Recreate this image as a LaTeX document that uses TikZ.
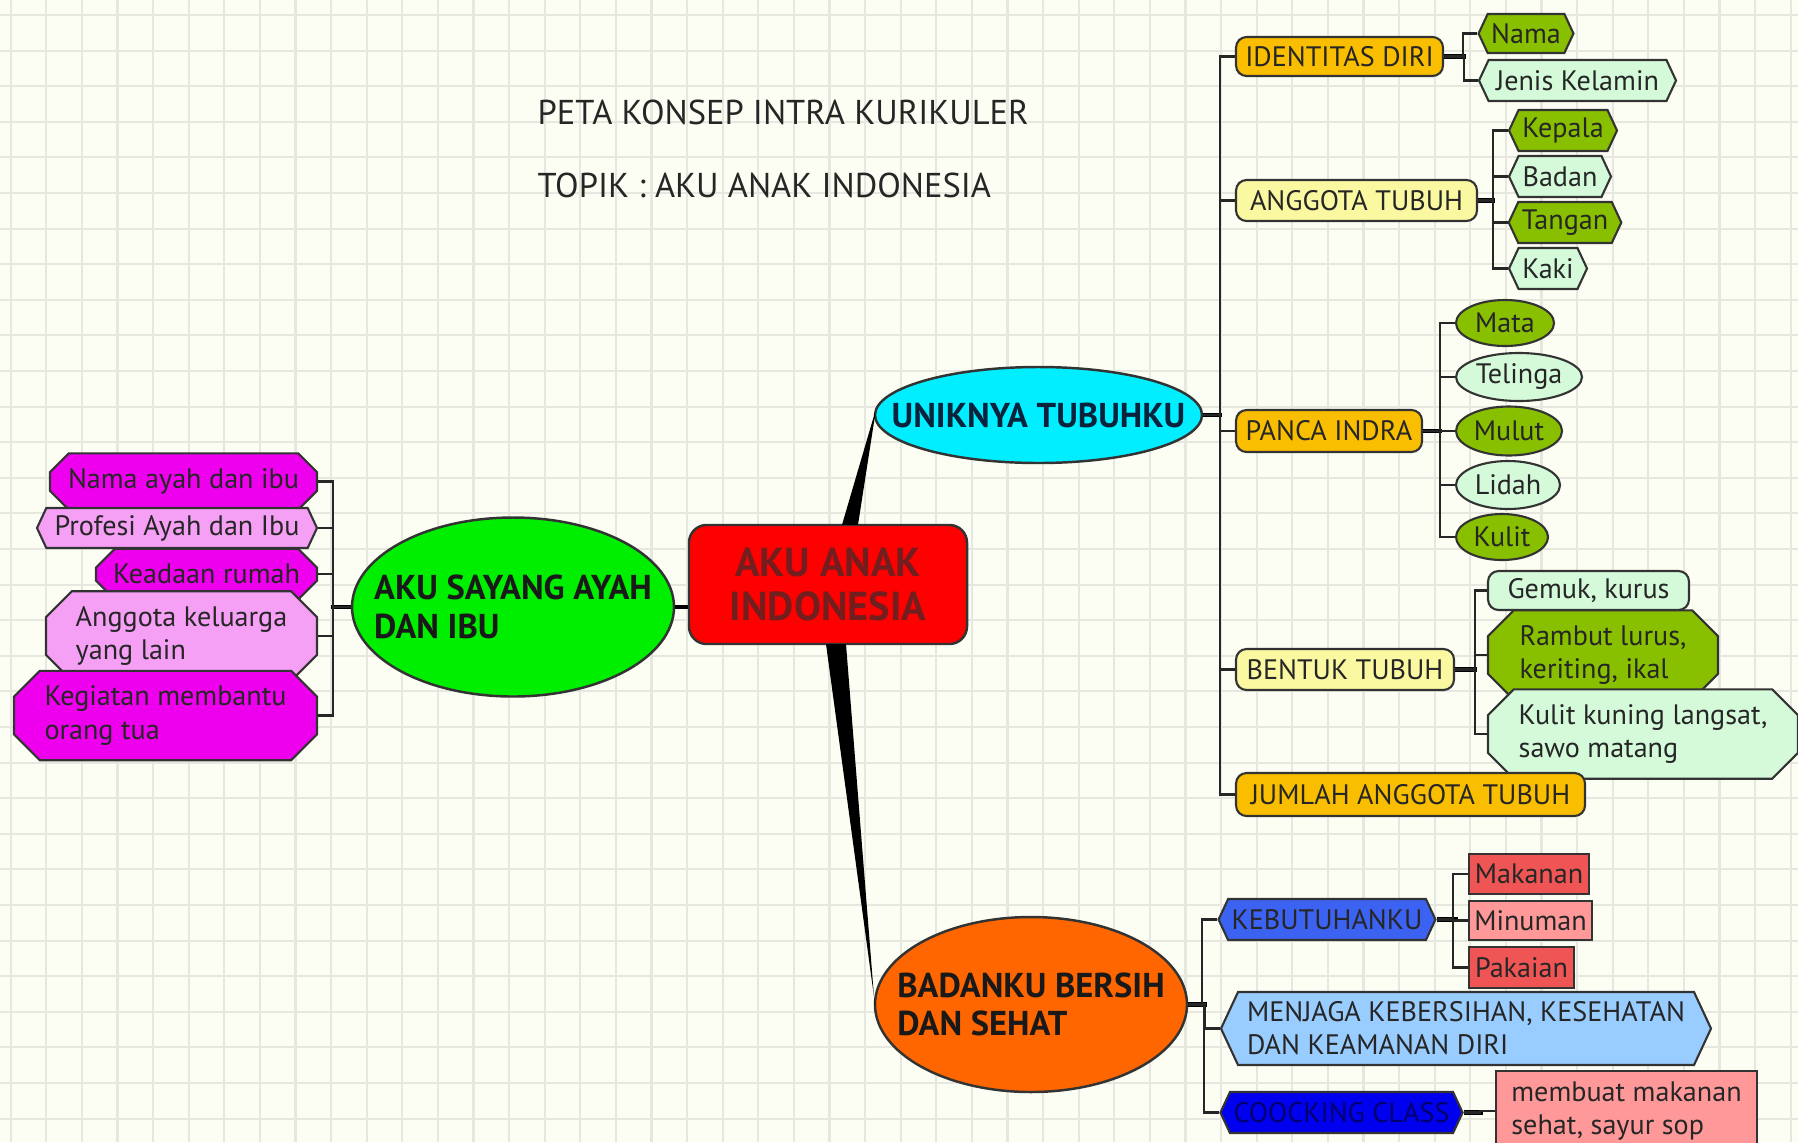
\documentclass[tikz,border=0pt]{standalone}
\usepackage{fontspec}
\setmainfont{PT Sans}
\usetikzlibrary{calc,shapes.geometric,shapes.misc,shapes.symbols}
\definecolor{pkpaper}{RGB}{253,254,243}
\definecolor{pkgrid}{RGB}{230,232,223}
\definecolor{pkred}{RGB}{255,0,0}
\definecolor{pkredtext}{RGB}{115,30,30}
\definecolor{pklime}{RGB}{0,238,0}
\definecolor{pkcyan}{RGB}{0,238,255}
\definecolor{pkink}{RGB}{10,35,60}
\definecolor{pkorange}{RGB}{255,102,0}
\definecolor{pkgold}{RGB}{250,190,0}
\definecolor{pkcream}{RGB}{250,248,160}
\definecolor{pkolive}{RGB}{136,192,0}
\definecolor{pkmint}{RGB}{212,250,218}
\definecolor{pkmagenta}{RGB}{238,0,238}
\definecolor{pkpink}{RGB}{245,160,245}
\definecolor{pkblue}{RGB}{59,98,240}
\definecolor{pksky}{RGB}{153,204,255}
\definecolor{pknavy}{RGB}{0,0,238}
\definecolor{pkdeep}{RGB}{0,0,110}
\definecolor{pksalmon}{RGB}{240,85,85}
\definecolor{pkrose}{RGB}{255,153,153}

\begin{document}
\begin{tikzpicture}[x=0.01cm, y=-0.01cm,
  dims/.style 2 args={minimum width=#1*0.01cm, minimum height=#2*0.01cm},
  box/.style={draw=black!80, line width=0.6pt, inner sep=1pt,
    font=\fontsize{8}{9.4}\selectfont, text=black!85},
  tagbox/.style={box, rounded corners=3pt},
  hexbox/.style={box, signal, signal to=east and west, signal pointer angle=130},
  cutbox/.style={box, chamfered rectangle, chamfered rectangle xsep=2pt},
  oval/.style={box, ellipse, inner sep=-1cm},
  bigoval/.style={draw=black!80, line width=0.7pt, ellipse, inner sep=-1cm,
    font=\fontsize{9.8}{11}\selectfont\bfseries, text=black!90},
  hub/.style={draw=black!80, line width=0.7pt, fill=pkred, rounded corners=5pt,
    align=center, font=\fontsize{11.5}{12.5}\selectfont\bfseries, text=pkredtext},
  headline/.style={anchor=west, inner sep=0pt, font=\fontsize{9.8}{11}\selectfont, text=black!85},
  link/.style={line width=0.6pt, black!85},
  trunk/.style={line width=1.4pt, black}]
\useasboundingbox (0,0) rectangle (1798,1142);
\clip (0,0) rectangle (1798,1142);
% Paper
\fill[pkpaper] (0,0) rectangle (1798,1142);
\foreach \gx in {0,...,50}
  \draw[pkgrid, line width=0.6pt] (10.7+35.6*\gx,0) -- ++(0,1142);
\foreach \gy in {0,...,31}
  \draw[pkgrid, line width=0.6pt] (0,15+35.6*\gy) -- ++(1798,0);
% Title
\node[headline] (judul) at (537,112) {PETA KONSEP INTRA KURIKULER};
\node[headline] (topik) at (537,185) {TOPIK : AKU ANAK INDONESIA};
% Main ideas
\node[hub, dims={278}{119}] (inti) at (828,584.5) {AKU ANAK\\INDONESIA};
\node[bigoval, fill=pklime, dims={322}{179}, align=left] (sayang) at (513,607) {AKU SAYANG AYAH\\DAN IBU};
\node[bigoval, fill=pkcyan, dims={327}{96}, text=pkink] (unik) at (1038.5,415) {UNIKNYA TUBUHKU};
\node[bigoval, fill=pkorange, dims={312}{175}, align=left] (bersih) at (1031,1004.5) {BADANKU BERSIH\\DAN SEHAT};
% Left branch
\node[cutbox, fill=pkmagenta, dims={267}{39}] (namaortu) at (183.5,481.5) {Nama ayah dan ibu};
\node[hexbox, fill=pkpink, dims={280}{40}] (profesi) at (177,528) {Profesi Ayah dan Ibu};
\node[cutbox, fill=pkmagenta, dims={221}{40}] (rumah) at (206.5,574) {Keadaan rumah};
\node[cutbox, fill=pkpink, dims={271}{72}, align=left, chamfered rectangle xsep=4pt] (keluarga) at (181.5,636) {Anggota keluarga\\yang lain};
\node[cutbox, fill=pkmagenta, dims={303}{73}, align=left, chamfered rectangle xsep=4pt] (bantu) at (165.5,715.5) {Kegiatan membantu\\orang tua};
% Upper right branch
\node[tagbox, fill=pkgold, dims={207}{39}] (identitas) at (1339.5,56.5) {IDENTITAS DIRI};
\node[hexbox, fill=pkolive, dims={94}{39}] (nama) at (1526,33.5) {Nama};
\node[hexbox, fill=pkmint, dims={197}{41}] (kelamin) at (1577.5,80.5) {Jenis Kelamin};
\node[tagbox, fill=pkcream, dims={241}{41}] (anggota) at (1356.5,200.5) {ANGGOTA TUBUH};
\node[hexbox, fill=pkolive, dims={108}{41}] (kepala) at (1563,130.5) {Kepala};
\node[hexbox, fill=pkmint, dims={102}{41}] (badan) at (1560,176.5) {Badan};
\node[hexbox, fill=pkolive, dims={112}{41}] (tangan) at (1565,222.5) {Tangan};
\node[hexbox, fill=pkmint, dims={78}{41}] (kaki) at (1548,268.5) {Kaki};
\node[tagbox, fill=pkgold, dims={186}{42}] (indra) at (1329,431) {PANCA INDRA};
\node[oval, fill=pkolive, dims={98}{46}] (mata) at (1505,323) {Mata};
\node[oval, fill=pkmint, dims={126}{48}] (telinga) at (1519,377) {Telinga};
\node[oval, fill=pkolive, dims={106}{49}] (mulut) at (1509,431) {Mulut};
\node[oval, fill=pkmint, dims={104}{48}] (lidah) at (1508,485) {Lidah};
\node[oval, fill=pkolive, dims={92}{46}] (kulit) at (1502,537) {Kulit};
\node[tagbox, fill=pkcream, dims={218}{41}] (bentuk) at (1345,669.5) {BENTUK TUBUH};
\node[tagbox, fill=pkmint, dims={201}{39}] (gemuk) at (1588.5,590.5) {Gemuk, kurus};
\node[cutbox, fill=pkolive, dims={230}{76}, chamfered rectangle xsep=4pt, align=left] (rambut) at (1603,655) {Rambut lurus,\\keriting, ikal};
\node[cutbox, fill=pkmint, dims={310}{74}, chamfered rectangle xsep=4pt, align=left] (warna) at (1643,734) {Kulit kuning langsat,\\sawo matang};
\node[tagbox, fill=pkgold, dims={349}{43}] (jumlah) at (1410.5,794.5) {JUMLAH ANGGOTA TUBUH};
% Lower right branch
\node[hexbox, fill=pkblue, dims={212}{41}] (butuh) at (1327,919.5) {KEBUTUHANKU};
\node[box, fill=pksalmon, dims={120}{40}] (makanan) at (1529,874) {Makanan};
\node[box, fill=pkrose, dims={123}{39}] (minuman) at (1530.5,920.5) {Minuman};
\node[box, fill=pksalmon, dims={105}{41}] (pakaian) at (1521.5,967.5) {Pakaian};
\node[hexbox, fill=pksky, dims={490}{73}, align=left] (jaga) at (1466,1028.5) {MENJAGA KEBERSIHAN, KESEHATAN\\DAN KEAMANAN DIRI};
\node[hexbox, fill=pknavy, text=pkdeep, dims={241}{41}] (masak) at (1341.5,1112.5) {COOCKING CLASS};
\node[box, fill=pkrose, dims={261}{80}, align=left] (sop) at (1626.5,1111) {membuat makanan\\sehat, sayur sop};
% Thick connectors from the centre
\fill[black] ($(inti.north)+(14,1)$) -- ($(unik.west)+(1,-2)$) -- ($(unik.west)+(1,2)$) -- ($(inti.north)+(30,1)$) -- cycle;
\fill[black] ($(inti.south)+(-2,-1)$) -- ($(bersih.west)+(1,-2)$) -- ($(bersih.west)+(1,2)$) -- ($(inti.south)+(18,-1)$) -- cycle;
\draw[trunk] (sayang.east) -- (sayang.east -| inti.west);
% Branch links
\draw[trunk] (sayang.west) -- ++(-20,0);
\foreach \kid in {namaortu,profesi,rumah,keluarga,bantu}
  \draw[link] (\kid.east) -- ++(15,0) |- (sayang.west);
\draw[trunk] (unik.east) -- ++(19,0);
\foreach \kid in {identitas,anggota,indra,bentuk,jumlah}
  \draw[link] (\kid.west) -- ++(-15,0) |- (unik.east);
\draw[trunk] (identitas.east) -- ++(22,0);
\foreach \kid in {nama,kelamin}
  \draw[link] (\kid.west) -- ++(-14,0) |- (identitas.east);
\draw[trunk] (anggota.east) -- ++(17,0);
\foreach \kid in {kepala,badan,tangan,kaki}
  \draw[link] (\kid.west) -- ++(-15,0) |- (anggota.east);
\draw[trunk] (indra.east) -- ++(19,0);
\foreach \kid in {mata,telinga,mulut,lidah,kulit}
  \draw[link] (\kid.west) -- ++(-15,0) |- (indra.east);
\draw[trunk] (bentuk.east) -- ++(22,0);
\foreach \kid in {gemuk,rambut,warna}
  \draw[link] (\kid.west) -- ++(-12,0) |- (bentuk.east);
\draw[trunk] (bersih.east) -- ++(19,0);
\foreach \kid in {butuh,jaga,masak}
  \draw[link] (\kid.west) -- ++(-15,0) |- (bersih.east);
\draw[trunk] (butuh.east) -- ++(21,0);
\foreach \kid in {makanan,minuman,pakaian}
  \draw[link] (\kid.west) -- ++(-15,0) |- (butuh.east);
\draw[trunk] (masak.east) -- ++(19,0);
\draw[link] (sop.west) -- ++(-15,0) |- (masak.east);
\end{tikzpicture}
\end{document}
